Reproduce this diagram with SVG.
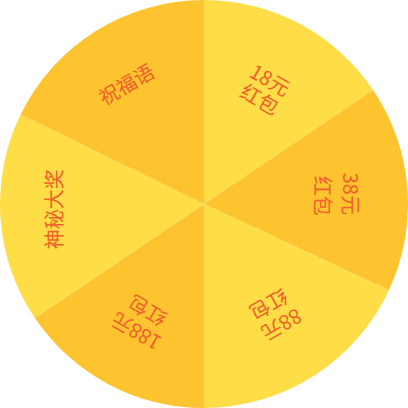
<svg xmlns="http://www.w3.org/2000/svg" width="408" height="408" viewBox="0 0 408 408">
<style>
.light{fill:#FEDD46}
.dark{fill:#FDC42F}
.t{font-family:"Noto Sans CJK SC","Noto Sans",sans-serif;font-size:20px;fill:#F0602A;text-anchor:middle}
</style>
<g id="s1"><path class="light" d="M204,204 L204,0 A204,204 0 0 1 373.1,89.9 Z"/>
<text class="t" transform="translate(269.7,80.4) rotate(30)" y="7">18元</text>
<text class="t" transform="translate(259.4,99.8) rotate(30)" y="7">红包</text></g>
<g id="s2"><path class="dark" d="M204,204 L373.1,89.9 A204,204 0 0 1 388.9,290.2 Z"/>
<text class="t" transform="translate(349.6,193.8) rotate(90)" y="7">38元</text>
<text class="t" transform="translate(322.2,195.7) rotate(90)" y="7">红包</text></g>
<g id="s3"><path class="light" d="M204,204 L388.9,290.2 A204,204 0 0 1 204,408 Z"/>
<text class="t" transform="translate(281.4,324.3) rotate(150)" y="7">88元</text>
<text class="t" transform="translate(268.4,304.1) rotate(150)" y="7">红包</text></g>
<g id="s4"><path class="dark" d="M204,204 L204,408 A204,204 0 0 1 34.9,318.1 Z"/>
<text class="t" transform="translate(136.4,331.1) rotate(210)" y="7">188元</text>
<text class="t" transform="translate(147.7,310) rotate(210)" y="7">红包</text></g>
<g id="s5"><path class="light" d="M204,204 L34.9,318.1 A204,204 0 0 1 20.6,114.6 Z"/>
<text class="t" transform="translate(55.1,209.2) rotate(270)" y="7">神秘大奖</text></g>
<g id="s6"><path class="dark" d="M204,204 L20.6,114.6 A204,204 0 0 1 204,0 Z"/>
<text class="t" transform="translate(126.7,84.9) rotate(330)" y="7">祝福语</text></g>
</svg>
